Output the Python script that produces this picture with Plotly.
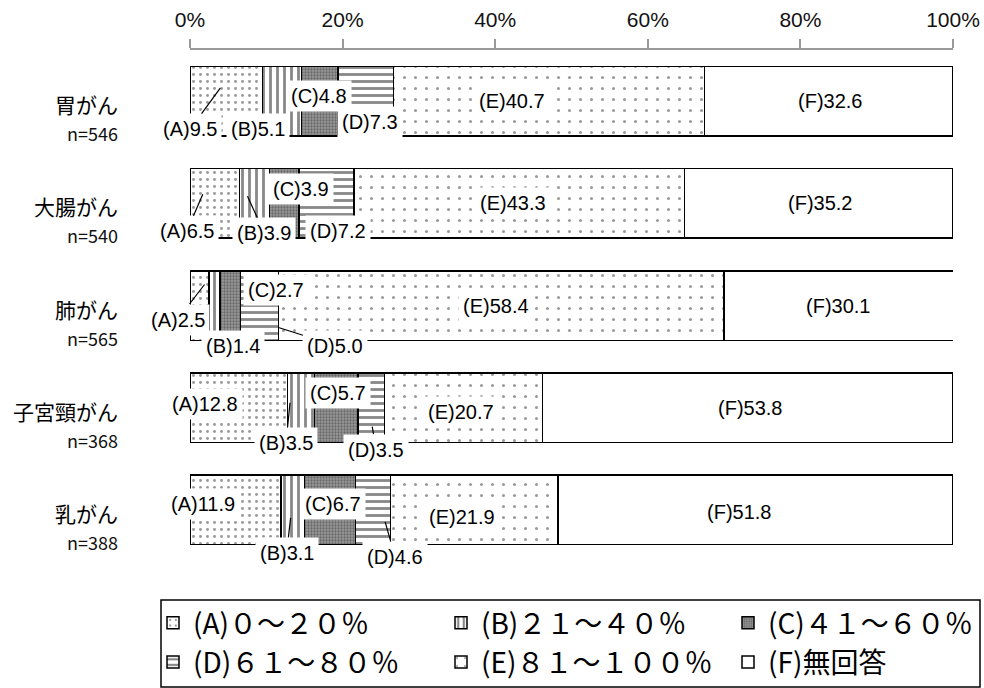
import plotly.graph_objects as go

# Survey results by cancer type (percent of respondents)
categories = ["胃がん", "大腸がん", "肺がん", "子宮頸がん", "乳がん"]
sample_sizes = [546, 540, 565, 368, 388]
letters = ["A", "B", "C", "D", "E", "F"]
series_names = [
    "(A)０～２０％",
    "(B)２１～４０％",
    "(C)４１～６０％",
    "(D)６１～８０％",
    "(E)８１～１００％",
    "(F)無回答",
]
val_A = [9.5, 6.5, 2.5, 12.8, 11.9]
val_B = [5.1, 3.9, 1.4, 3.5, 3.1]
val_C = [4.8, 3.9, 2.7, 5.7, 6.7]
val_D = [7.3, 7.2, 5.0, 3.5, 4.6]
val_E = [40.7, 43.3, 58.4, 20.7, 21.9]
val_F = [32.6, 35.2, 30.1, 53.8, 51.8]
series_values = [val_A, val_B, val_C, val_D, val_E, val_F]

# fill patterns for each segment
patterns = [
    dict(shape=".", size=7, solidity=0.14, fgcolor="#333", bgcolor="white", fillmode="overlay"),
    dict(shape="|", size=7, solidity=0.4, fgcolor="#111", bgcolor="white", fillmode="overlay"),
    dict(shape=".", size=3, solidity=0.45, fgcolor="#333", bgcolor="#9a9a9a", fillmode="overlay"),
    dict(shape="-", size=7, solidity=0.4, fgcolor="#111", bgcolor="white", fillmode="overlay"),
    dict(shape=".", size=11, solidity=0.06, fgcolor="#333", bgcolor="white", fillmode="overlay"),
    dict(shape="", fgcolor="white", bgcolor="white"),
]

# legend columns: series index -> legend id
legend_ids = ["legend", "legend2", "legend3", "legend", "legend2", "legend3"]

# label placement: (text dx, text dy, tip dx, tip dy) in screen px from segment centre
label_layout = [
    [(-36, 28, -6, -13), (-24, 28, None, None), (-1, -5, None, None), (4, 21, None, None), (-37, 0, None, None), (1, 0, None, None)],
    [(-28, 28, -12, -9), (10, 30, -7, -7), (17, -14, None, None), (11, 28, None, None), (-6, 0, None, None), (1, 0, None, None)],
    [(-22, 14, 5, -21), (19, 40, None, None), (46, -16, None, None), (76, 40, 19, 22), (-5, 0, None, None), (-1, 0, None, None)],
    [(-34, -4, None, None), (-15, 35, -11, -5), (2, -15, None, None), (5, 42, 1, 19), (-3, 4, None, None), (2, 0, None, None)],
    [(-32, -6, None, None), (-6, 43, -2, 8), (3, -6, None, None), (22, 47, 12, 12), (-12, 7, None, None), (-16, 2, None, None)],
]

# page geometry (px)
W, H = 984, 688
ML, MR, MT, MB = 190, 31, 50, 127

fig = go.Figure()
for i, (name, vals, pat) in enumerate(zip(series_names, series_values, patterns)):
    fig.add_trace(go.Bar(
        y=categories, x=vals, name=name, orientation="h",
        marker=dict(color="white", pattern=pat, line=dict(color="black", width=1.5)),
        legend=legend_ids[i], legendgroup=letters[i],
        hoverinfo="x+name",
    ))

annotations = []
label_font = dict(family="Liberation Sans, Arial, sans-serif", size=20, color="black")
for r, cat in enumerate(categories):
    start = 0.0
    for s, vals in enumerate(series_values):
        v = vals[r]
        centre = start + v / 2
        start += v
        tx, ty, px, py = label_layout[r][s]
        text = f"({letters[s]}){v:.1f}"
        if px is None:
            annotations.append(dict(
                x=centre, y=cat, xref="x", yref="y", text=text, showarrow=False,
                xshift=tx, yshift=-ty, font=label_font, bgcolor="white", borderpad=4,
            ))
        else:
            annotations.append(dict(
                x=centre, y=cat, xref="x", yref="y", text=text, showarrow=True,
                arrowhead=0, arrowwidth=1.2, arrowcolor="black", standoff=0,
                xshift=px, yshift=-py, ax=tx - px, ay=ty - py, axref="pixel", ayref="pixel",
                font=label_font, bgcolor="white", borderpad=4,
            ))

# category labels with sample sizes
for cat, n in zip(categories, sample_sizes):
    annotations.append(dict(
        x=0, y=cat, xref="x", yref="y", text=cat, showarrow=False, xanchor="right",
        xshift=-70, yshift=-3,
        font=dict(family="Noto Sans CJK JP", size=21, color="black"),
    ))
    annotations.append(dict(
        x=0, y=cat, xref="x", yref="y", text=f"n={n}", showarrow=False, xanchor="right",
        xshift=-70, yshift=-32,
        font=dict(family="Noto Sans CJK JP", size=18, color="#111"),
    ))

legend_style = dict(
    orientation="v", xref="container", yref="container", xanchor="left", yanchor="top",
    traceorder="grouped", tracegroupgap=0, itemwidth=30,
    font=dict(family="Noto Sans CJK JP", size=28, color="black"),
    bgcolor="rgba(0,0,0,0)", borderwidth=0,
)
legend_cols_px = [153, 441, 728]
legend_top_px = 598

fig.update_layout(
    width=W, height=H,
    margin=dict(l=ML, r=MR, t=MT, b=MB, autoexpand=False),
    paper_bgcolor="white", plot_bgcolor="white",
    barmode="stack", bargap=0.32,
    annotations=annotations,
    showlegend=True,
    legend=dict(legend_style, x=legend_cols_px[0] / W, y=1 - legend_top_px / H),
    legend2=dict(legend_style, x=legend_cols_px[1] / W, y=1 - legend_top_px / H),
    legend3=dict(legend_style, x=legend_cols_px[2] / W, y=1 - legend_top_px / H),
    shapes=[dict(
        type="rect", xref="paper", yref="paper",
        x0=(161 - ML) / (W - ML - MR), x1=(980 - ML) / (W - ML - MR),
        y0=(H - MB - 600) / (H - MT - MB), y1=(H - MB - 687) / (H - MT - MB),
        line=dict(color="black", width=1.5), fillcolor="rgba(0,0,0,0)",
    )],
    xaxis=dict(
        side="top", range=[0, 100], dtick=20, ticksuffix="%",
        showgrid=False, zeroline=False, showline=True, linecolor="#999", linewidth=1.5,
        ticks="outside", ticklen=9, tickcolor="#999", tickwidth=1.5, ticklabelstandoff=4,
        tickfont=dict(family="Liberation Sans, Arial, sans-serif", size=21, color="#111"),
        fixedrange=True,
    ),
    yaxis=dict(
        autorange="reversed", showticklabels=False, showgrid=False, zeroline=False,
        showline=False, ticks="", fixedrange=True,
    ),
)

fig.write_html("out.html")
